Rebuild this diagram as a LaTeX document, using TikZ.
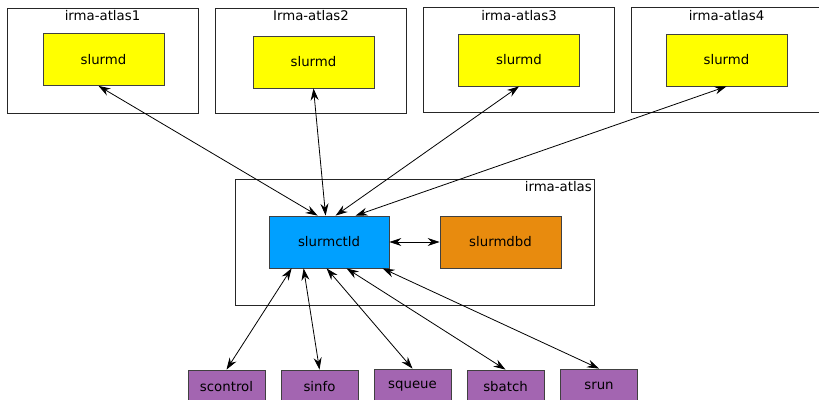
\documentclass[tikz,border=0pt]{standalone}
\usepackage{fontspec}
\setmainfont{DejaVu Sans}
\usetikzlibrary{arrows.meta}
\definecolor{dyellow}{RGB}{255,255,0}
\definecolor{ctlblue}{RGB}{0,160,255}
\definecolor{dbdorange}{RGB}{232,139,14}
\definecolor{cmdpurple}{RGB}{163,101,177}
\begin{document}
\begin{tikzpicture}
  [x=1pt,y=-1pt,every node/.style={font=\fontsize{13.3}{15}\selectfont},
   host/.style={draw=black!85,line width=0.8pt,inner sep=0pt,minimum width=191pt,minimum height=105pt},
   daemon/.style={draw=black!75,line width=0.8pt,minimum width=121pt,minimum height=52pt},
   cmd/.style={draw=black!75,line width=0.8pt,fill=cmdpurple,minimum width=77pt,minimum height=34pt},
   link/.style={line width=0.8pt,{Stealth[length=12pt,width=8pt,inset=4pt]}-{Stealth[length=12pt,width=8pt,inset=4pt]}}]
  \useasboundingbox (0,0) rectangle (819,399);

  % compute nodes
  \node[host] (h1) at (102.5,60.5) {};
  \node[host] (h2) at (311,60.5) {};
  \node[host] (h3) at (519,60) {};
  \node[host] (h4) at (726.5,60) {};
  \node (l1) at (102.5,16) {irma-atlas1};
  \node (l2) at (311,16) {Irma-atlas2};
  \node (l3) at (519,16) {irma-atlas3};
  \node (l4) at (726.5,16) {irma-atlas4};

  \node[daemon,fill=dyellow] (d1) at (103.5,59.5) {slurmd};
  \node[daemon,fill=dyellow] (d2) at (313.5,62) {slurmd};
  \node[daemon,fill=dyellow] (d3) at (519,60) {slurmd};
  \node[daemon,fill=dyellow] (d4) at (726.5,60) {slurmd};

  % head node
  \node[host,minimum width=359pt,minimum height=126pt] (head) at (414.5,242) {};
  \node[anchor=east,inner sep=2pt] (lh) at (594,187) {irma-atlas};
  \node[daemon,fill=ctlblue,minimum width=120pt] (ctl) at (329,242) {slurmctld};
  \node[daemon,fill=dbdorange] (dbd) at (500.5,242) {slurmdbd};

  % commands
  \node[cmd] (scontrol) at (226.5,387) {scontrol};
  \node[cmd] (sinfo) at (319.5,387) {sinfo};
  \node[cmd] (squeue) at (412.5,386) {squeue};
  \node[cmd] (sbatch) at (505.5,387) {sbatch};
  \node[cmd] (srun) at (599,386) {srun};

  \draw[link] ([xshift=-5pt]d1.south) -- ([xshift=49pt]ctl.north west);
  \foreach \from/\dx in {d2/57,d3/67,d4/87}
    \draw[link] (\from.south) -- ([xshift=\dx pt]ctl.north west);
  \draw[link] (ctl) -- (dbd);
  \foreach \to/\dx in {scontrol/23,sinfo/35,squeue/58,sbatch/78,srun/114}
    \draw[link] ([xshift=\dx pt]ctl.south west) -- (\to.north);

\end{tikzpicture}
\end{document}
